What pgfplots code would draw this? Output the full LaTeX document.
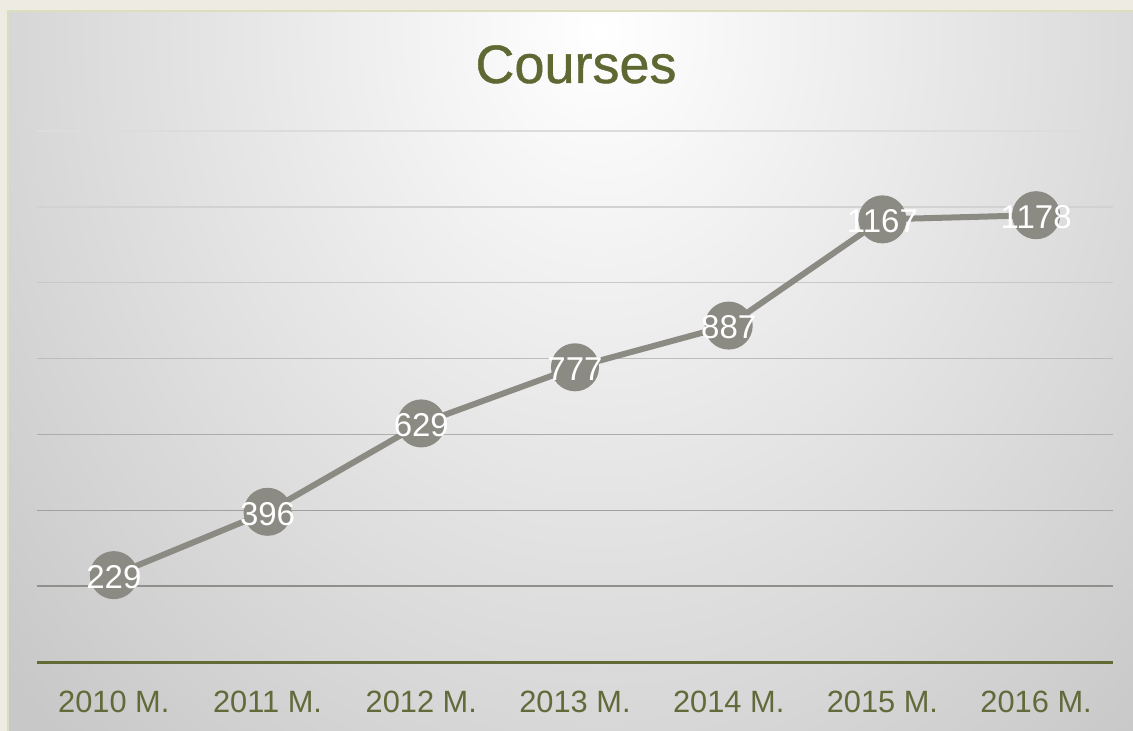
\documentclass[border=0pt]{standalone}
\usepackage{pgfplots}
\pgfplotsset{compat=1.18}
\usepackage{fontspec}
\setmainfont{Liberation Sans}
\newfontfamily\titlefont[FakeBold=0.8]{Liberation Sans}
\definecolor{titleolive}{HTML}{5E6832}
\definecolor{tickolive}{HTML}{626A3A}
\definecolor{axisolive}{HTML}{636A35}
\definecolor{linegray}{HTML}{8B8B84}
\definecolor{beigebg}{HTML}{EEEBE2}
\definecolor{bordergreen}{HTML}{DADFBE}
\definecolor{bgdark}{HTML}{C8C8C8}
\pgfdeclareradialshading{bgshade}{\pgfpoint{0bp}{0bp}}{color(0bp)=(white); color(25bp)=(bgdark); color(50bp)=(bgdark)}
\pgfplotstableread{
x y
0 229
1 396
2 629
3 777
4 887
5 1167
6 1178
}\courses
\begin{document}
\begin{tikzpicture}
\useasboundingbox (0,0) rectangle (566.5bp,365.5bp);
\fill[beigebg] (0,0) rectangle (566.5bp,365.5bp);
\begin{scope}
\clip (4bp,0) rectangle (566.5bp,360bp);
\fill[bgdark] (4bp,0) rectangle (566.5bp,360bp);
\shade[shading=bgshade] (300bp,350bp) ellipse (400bp and 480bp);
\end{scope}
\draw[bordergreen, line width=1bp] (4bp,-1bp) -- (4bp,360bp) -- (567.5bp,360bp);
\node[anchor=base, text=titleolive, font=\titlefont\fontsize{27bp}{30bp}\selectfont, inner sep=0pt] at (288bp,324bp) {Courses};
\begin{axis}[
  at={(18.5bp,34.5bp)}, anchor=south west,
  scale only axis, width=538bp, height=265.5bp,
  xmin=-0.5, xmax=6.5, ymin=0, ymax=1400,
  axis y line=none,
  axis x line*=bottom,
  x axis line style={axisolive, line width=1.5bp, -},
  xtick={0,...,6},
  xticklabels={2010 M., 2011 M., 2012 M., 2013 M., 2014 M., 2015 M., 2016 M.},
  xtick style={draw=none},
  xticklabel style={anchor=base, yshift=-25bp, text=tickolive, font=\fontsize{15.4bp}{18bp}\selectfont, inner sep=0pt},
  ytick=\empty,
  clip=false,
  /pgf/number format/.cd, 1000 sep={}, assume math mode=true,
]
\draw[line width=0.75bp, color={rgb,255:red,143;green,143;blue,139}] (axis cs:-0.5,200) -- (axis cs:6.5,200);
\draw[line width=0.75bp, color={rgb,255:red,160;green,160;blue,158}] (axis cs:-0.5,400) -- (axis cs:6.5,400);
\draw[line width=0.75bp, color={rgb,255:red,172;green,172;blue,170}] (axis cs:-0.5,600) -- (axis cs:6.5,600);
\draw[line width=0.75bp, color={rgb,255:red,188;green,188;blue,186}] (axis cs:-0.5,800) -- (axis cs:6.5,800);
\draw[line width=0.75bp, color={rgb,255:red,200;green,200;blue,200}] (axis cs:-0.5,1000) -- (axis cs:6.5,1000);
\draw[line width=0.75bp, color={rgb,255:red,210;green,210;blue,210}] (axis cs:-0.5,1200) -- (axis cs:6.5,1200);
\draw[line width=0.75bp, color={rgb,255:red,220;green,220;blue,220}] (axis cs:-0.5,1400) -- (axis cs:6.5,1400);
\addplot[linegray, line width=3bp, mark=*, mark size=10.5bp,
  mark options={fill=linegray, draw=none},
  nodes near coords={\pgfmathprintnumber[1000 sep={}, assume math mode=true]{\pgfplotspointmeta}},
  every node near coord/.append style={anchor=center, yshift=-1bp, text=white, font=\fontsize{16.5bp}{18bp}\selectfont, inner sep=0pt}
] table[x=x, y=y] {\courses};
\end{axis}
\end{tikzpicture}
\end{document}
